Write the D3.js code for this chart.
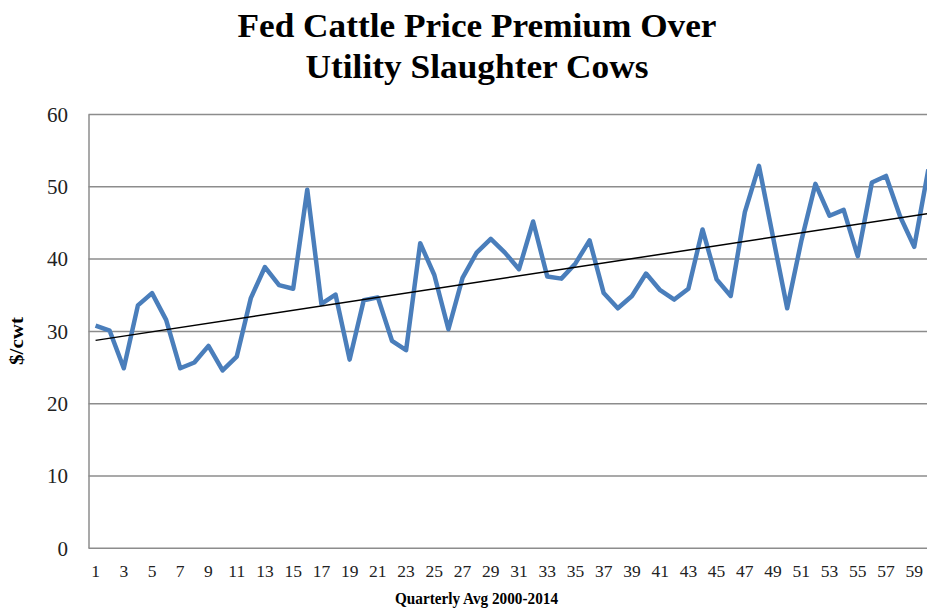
<!DOCTYPE html>
<html><head><meta charset="utf-8">
<script src="https://cdn.jsdelivr.net/npm/d3@7"></script>
<style>html,body{margin:0;padding:0;background:#fff;overflow:hidden}</style>
</head><body>
<svg id="c" width="927" height="610"></svg>
<script>
const quarters = d3.range(1, 61);
const premium = [
 30.8, 30.1, 24.9, 33.6, 35.3, 31.6, 24.9, 25.7, 28.0, 24.6,
 26.5, 34.6, 38.9, 36.4, 35.9, 49.6, 33.8, 35.1, 26.1, 34.3,
 34.7, 28.7, 27.4, 42.2, 37.8, 30.3, 37.4, 40.9, 42.8, 40.9,
 38.6, 45.2, 37.6, 37.3, 39.4, 42.6, 35.3, 33.2, 34.9, 38.0,
 35.7, 34.4, 35.9, 44.1, 37.2, 34.9, 46.5, 52.9, 43.0, 33.2,
 42.5, 50.4, 46.0, 46.8, 40.4, 50.6, 51.5, 45.9, 41.7, 52.4
];
const yTicks = [0, 10, 20, 30, 40, 50, 60];
const xTickLabels = quarters.filter(q => q % 2 === 1);
const titleLines = ["Fed Cattle Price Premium Over", "Utility Slaughter Cows"];
const xTitle = "Quarterly Avg 2000-2014";
const yTitle = "$/cwt";

const svg = d3.select("#c");
const serif = "'Liberation Serif', 'Times New Roman', serif";

const x = d3.scaleBand().domain(quarters).range([88.5, 88.5 + 60 * 14.115]);
const y = d3.scaleLinear().domain([0, 60]).range([548.3, 114.5]);
const cx = q => x(q) + x.bandwidth() / 2;

// gridlines
svg.append("g").selectAll("line").data(yTicks).join("line")
  .attr("x1", 88.5).attr("x2", 940)
  .attr("y1", d => y(d)).attr("y2", d => y(d))
  .attr("stroke", "#8c8c8c").attr("stroke-width", 1.5);
// left axis line
svg.append("line").attr("x1", 89).attr("x2", 89).attr("y1", y(60)).attr("y2", y(0))
  .attr("stroke", "#8c8c8c").attr("stroke-width", 1.5);

// y tick labels via axis
const yAxis = svg.append("g").attr("transform", "translate(89,0)")
  .call(d3.axisLeft(y).tickValues(yTicks).tickSize(0).tickPadding(21));
yAxis.select(".domain").remove();
yAxis.selectAll("text").attr("font-family", serif).attr("font-size", 21).attr("fill", "#222");

// x tick labels
const xAxis = svg.append("g").attr("transform", `translate(0,${y(0)})`)
  .call(d3.axisBottom(x).tickValues(xTickLabels).tickSize(0).tickPadding(16));
xAxis.select(".domain").remove();
xAxis.selectAll("text").attr("font-family", serif).attr("font-size", 17.5).attr("fill", "#222");

// data line
svg.append("path").datum(quarters.map((q, i) => [q, premium[i]]))
  .attr("fill", "none").attr("stroke", "#4a7ebb").attr("stroke-width", 4.5)
  .attr("stroke-linejoin", "round")
  .attr("d", d3.line().x(d => cx(d[0])).y(d => y(d[1])));

// linear trendline (least squares)
const mx = d3.mean(quarters), my = d3.mean(premium);
const slope = d3.sum(quarters, (q, i) => (q - mx) * (premium[i] - my)) / d3.sum(quarters, q => (q - mx) ** 2);
const icpt = my - slope * mx;
svg.append("line")
  .attr("x1", cx(1)).attr("y1", y(icpt + slope * 1))
  .attr("x2", cx(60)).attr("y2", y(icpt + slope * 60))
  .attr("stroke", "#000").attr("stroke-width", 1.5);

// title
const tw = [479, 343];
titleLines.forEach((t, i) => {
  const el = svg.append("text").attr("x", 477).attr("y", 37 + i * 41)
    .attr("text-anchor", "middle").attr("font-family", serif).attr("font-weight", "bold")
    .attr("font-size", 34).attr("fill", "#000").text(t);
  const w = el.node().getComputedTextLength();
  if (Math.abs(w - tw[i]) > 3) el.attr("textLength", tw[i]).attr("lengthAdjust", "spacingAndGlyphs");
});

// x title
const xt = svg.append("text").attr("x", 476.5).attr("y", 604).attr("text-anchor", "middle")
  .attr("font-family", serif).attr("font-weight", "bold").attr("font-size", 17).text(xTitle);
if (Math.abs(xt.node().getComputedTextLength() - 163) > 3) xt.attr("textLength", 163).attr("lengthAdjust", "spacingAndGlyphs");

// y title
const yt = svg.append("text").attr("transform", "translate(23,341) rotate(-90)").attr("text-anchor", "middle")
  .attr("font-family", serif).attr("font-weight", "bold").attr("font-size", 18).text(yTitle);
if (Math.abs(yt.node().getComputedTextLength() - 48) > 3) yt.attr("textLength", 48).attr("lengthAdjust", "spacingAndGlyphs");
</script>
</body></html>
